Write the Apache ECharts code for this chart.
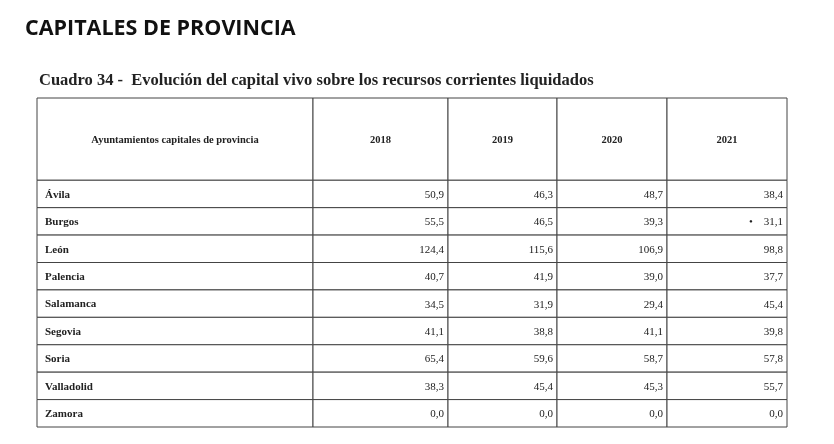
<!DOCTYPE html>
<html>
<head>
<meta charset="utf-8">
<script src="https://cdn.jsdelivr.net/npm/echarts@6/dist/echarts.min.js"></script>
<style>
  html, body { margin: 0; padding: 0; background: #fff; }
  #chart { width: 834px; height: 444px; }
</style>
</head>
<body>
<div id="chart"></div>
<script>
// Table contents
var headerLabel = 'Ayuntamientos capitales de provincia';
var years = ['2018', '2019', '2020', '2021'];
var cities = ['Ávila', 'Burgos', 'León', 'Palencia', 'Salamanca', 'Segovia', 'Soria', 'Valladolid', 'Zamora'];
var v2018 = ['50,9', '55,5', '124,4', '40,7', '34,5', '41,1', '65,4', '38,3', '0,0'];
var v2019 = ['46,3', '46,5', '115,6', '41,9', '31,9', '38,8', '59,6', '45,4', '0,0'];
var v2020 = ['48,7', '39,3', '106,9', '39,0', '29,4', '41,1', '58,7', '45,3', '0,0'];
var v2021 = ['38,4', '•    31,1', '98,8', '37,7', '45,4', '39,8', '57,8', '55,7', '0,0'];

// column edges in table units (layout)
var colEdges = [0, 276, 411, 520, 630, 750];
var headerRows = 3;

var cells = [];
cells.push([0, 0, headerLabel, 'header-left']);
years.forEach(function (y, i) { cells.push([i + 1, 0, y, 'header']); });
var cols = [v2018, v2019, v2020, v2021];
cities.forEach(function (c, r) {
  cells.push([0, r + 1, c, 'name']);
  cols.forEach(function (arr, i) { cells.push([i + 1, r + 1, arr[r], 'num']); });
});

var myChart = echarts.init(document.getElementById('chart'));

myChart.setOption({
  animation: false,
  title: [
    {
      text: 'CAPITALES DE PROVINCIA',
      left: 20, top: 13,
      textStyle: { fontFamily: 'Open Sans', fontWeight: 'bold', fontSize: 21.5, color: '#111' }
    },
    {
      text: 'Cuadro 34 -  Evolución del capital vivo sobre los recursos corrientes liquidados',
      left: 34, top: 67,
      textStyle: { fontFamily: 'Liberation Serif', fontWeight: 'bold', fontSize: 16.5, color: '#222' }
    }
  ],
  grid: { left: 37, right: 47, top: 98, bottom: 17 },
  xAxis: { type: 'value', min: 0, max: 750, show: false },
  yAxis: { type: 'value', min: 0, max: headerRows + cities.length, inverse: true, show: false },
  series: [{
    type: 'custom',
    data: cells,
    renderItem: function (params, api) {
      var c = api.value(0), r = api.value(1);
      var item = cells[params.dataIndex];
      var y0 = r === 0 ? 0 : headerRows + r - 1;
      var y1 = r === 0 ? headerRows : headerRows + r;
      var p0 = api.coord([colEdges[c], y0]);
      var p1 = api.coord([colEdges[c + 1], y1]);
      var kind = item[3];
      var tx, align;
      if (kind === 'name') { tx = p0[0] + 8; align = 'left'; }
      else if (kind === 'num') { tx = p1[0] - 4; align = 'right'; }
      else { tx = (p0[0] + p1[0]) / 2; align = 'center'; }
      return {
        type: 'group',
        children: [
          {
            type: 'rect',
            shape: { x: p0[0], y: p0[1], width: p1[0] - p0[0], height: p1[1] - p0[1] },
            style: { fill: '#fff', stroke: '#444', lineWidth: 1 }
          },
          {
            type: 'text',
            x: tx, y: (p0[1] + p1[1]) / 2 + 1,
            style: {
              text: item[2],
              textAlign: align,
              textVerticalAlign: 'middle',
              fontFamily: 'Liberation Serif',
              fontWeight: (kind === 'num') ? 'normal' : 'bold',
              fontSize: kind === 'header' || kind === 'header-left' ? 10.5 : 11,
              fill: '#222'
            }
          }
        ]
      };
    }
  }]
});

window.addEventListener('resize', myChart.resize);
</script>
</body>
</html>
